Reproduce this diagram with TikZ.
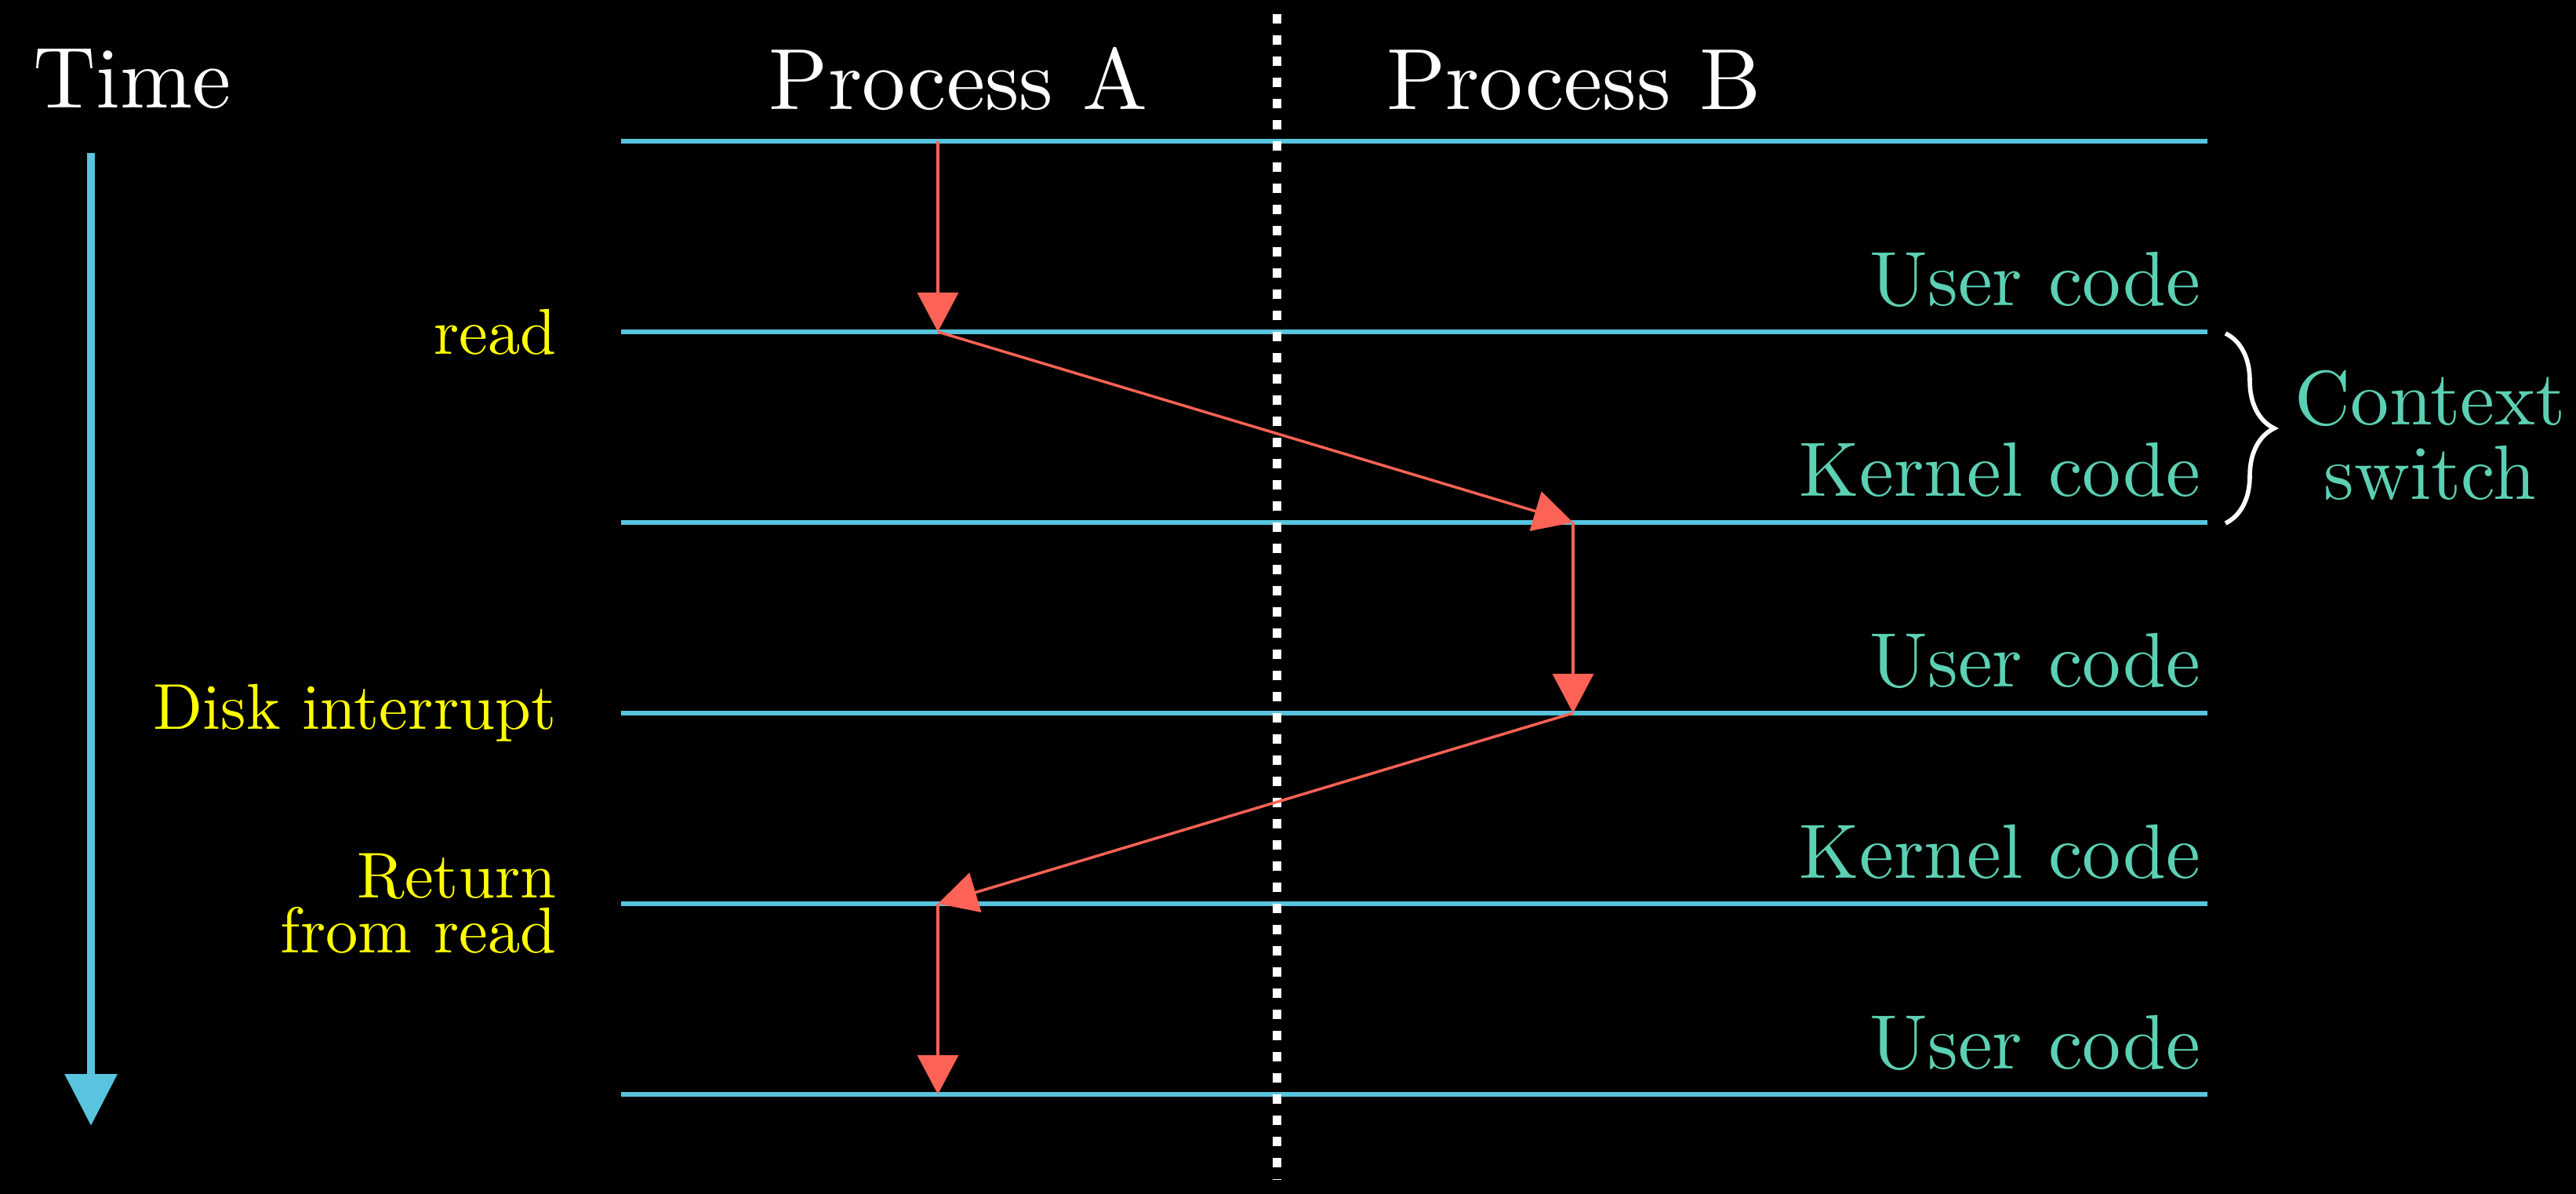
\documentclass[tikz,border=0pt]{standalone}
\usepackage{fontspec}
\setmainfont{lmroman10-regular.otf}
\usetikzlibrary{arrows.meta,decorations.pathreplacing}
\definecolor{lineblue}{HTML}{58C4DD}
\definecolor{jumpred}{HTML}{FC6255}
\definecolor{modegreen}{HTML}{5CD0B3}
\definecolor{eventyellow}{HTML}{FFFF00}
\tikzset{
	level/.style={lineblue, line width=1.8pt},
	jump/.style={jumpred, line width=1pt, -{Triangle[length=0.5cm, width=0.52cm]}},
	heading/.style={white, inner sep=0pt, anchor=base, font=\fontsize{31.5}{34}\selectfont},
	event/.style={eventyellow, inner sep=0pt, anchor=east, align=right, font=\fontsize{23.5}{20}\selectfont},
	mode/.style={modegreen, inner sep=0pt, anchor=base east, font=\fontsize{28}{30}\selectfont}
}
\begin{document}
\begin{tikzpicture}
		% background
		\fill[black] (0, 0) rectangle (32.85, -15.22);
		\useasboundingbox (0, 0) rectangle (32.85, -15.22);
		% headings
		\node[heading] (time) at (1.69, -1.38) {Time};
		\node[heading] (procA) at (12.22, -1.40) {Process A};
		\node[heading] (procB) at (20.07, -1.40) {Process B};
		% time axis
		\coordinate (t0) at (1.16, -1.95);
		\coordinate (t1) at (1.16, -14.35);
		\draw[lineblue, line width=2.8pt, -{Triangle[length=0.66cm, width=0.65cm]}] (t0) -- (t1);
		% the levels, and the points where the processes cross them
		\foreach \i in {0,...,5} {
			\coordinate (l\i) at (7.92, -1.80 - 2.43*\i);
			\coordinate (r\i) at (28.15, -1.80 - 2.43*\i);
			\coordinate (a\i) at (11.96, -1.80 - 2.43*\i);
			\coordinate (b\i) at (20.06, -1.80 - 2.43*\i);
			\draw[level] (l\i) -- (r\i);
		}
		% separator between A and B
		\coordinate (s0) at (16.28, -0.18);
		\coordinate (s1) at (16.28, -15.03);
		\draw[white, line width=0.11cm, dash pattern=on 0.12cm off 0.15cm] (s0) -- (s1);
		% what runs between two levels
		\foreach \i/\txt in {1/User code, 2/Kernel code, 3/User code, 4/Kernel code, 5/User code}
			\node[mode, xshift=-0.08cm, yshift=0.33cm] (m\i) at (r\i) {\txt};
		% events on the left
		\node[event, xshift=-0.82cm] (read) at (l1) {read};
		\node[event, xshift=-0.82cm] (irq) at (l3) {Disk interrupt};
		\node[event, xshift=-0.82cm] (ret) at (l4) {Return\\from read};
		% context switch
		\draw[white, line width=1.6pt, decorate, decoration={brace, amplitude=0.62cm}] (28.38, -4.25) -- (28.38, -6.67);
		\node[modegreen, inner sep=0pt, align=center, font=\fontsize{28}{27}\selectfont] (ctx) at (30.99, -5.55) {Context\\switch};
		% the flow of control
		\draw[jump] (a0) -- (a1);
		\draw[jump] (a1) -- (b2);
		\draw[jump] (b2) -- (b3);
		\draw[jump] (b3) -- (a4);
		\draw[jump] (a4) -- (a5);
	\end{tikzpicture}
\end{document}
